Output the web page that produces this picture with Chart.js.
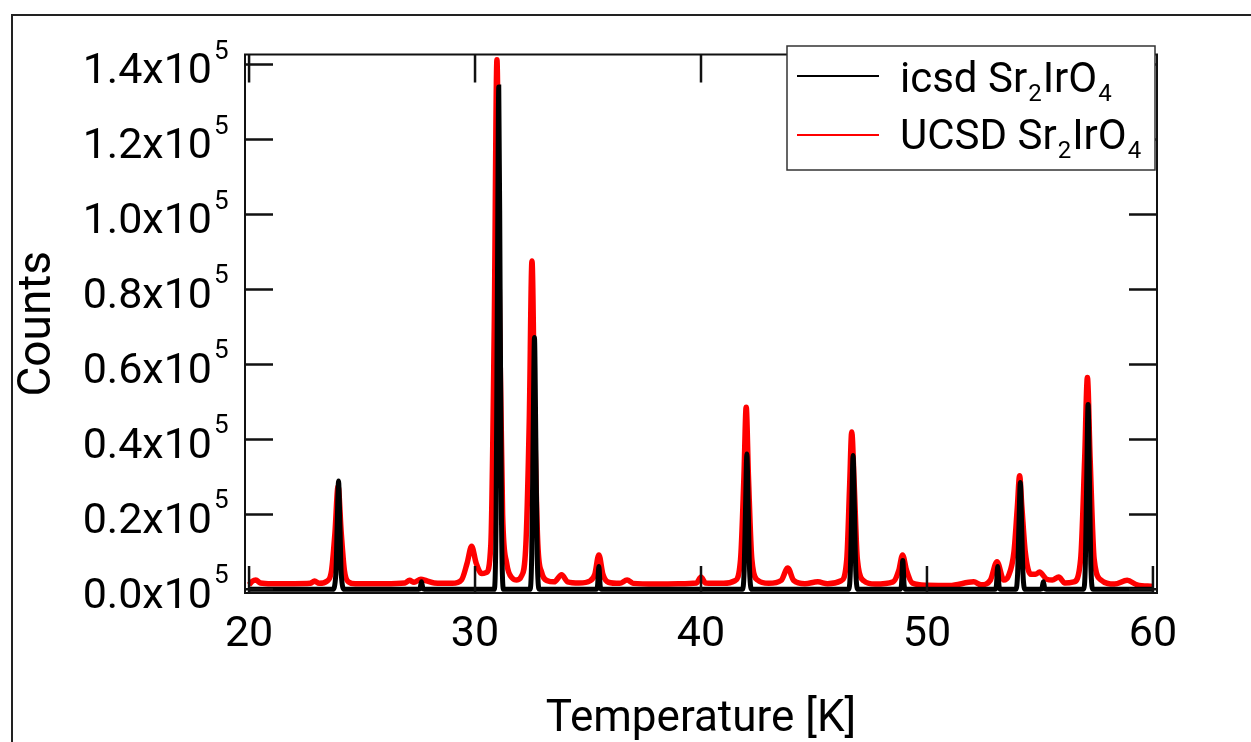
<!DOCTYPE html>
<html lang="en">
<head>
    <meta charset="UTF-8">
    <title>icsd vs UCSD Sr2IrO4</title>
    <script src="https://cdn.jsdelivr.net/npm/chart.js"></script>
    <style>
        html, body {
            margin: 0;
            padding: 0;
            background: #fff;
            overflow: hidden;
        }
        .frame {
            position: absolute;
            left: 11px;
            top: 14px;
            width: 1400px;
            height: 900px;
            border: 2px solid #222;
        }
        .chart-box {
            position: absolute;
            left: 0;
            top: 0;
            width: 1251px;
            height: 742px;
        }
    </style>
</head>
<body>

<div class="frame"></div>
<div class="chart-box">
    <canvas id="xrdChart"></canvas>
</div>

<script>
    // tick positions
    const xTicks = [20, 30, 40, 50, 60];
    const yTicks = [0, 20000, 40000, 60000, 80000, 100000, 120000, 140000];

    // icsd Sr2IrO4 (black)
    const icsdT = [
        20.0, 23.7, 23.84, 23.9, 23.96, 24.02, 24.08, 24.22,
        27.45, 27.51, 27.57, 27.63, 27.69, 27.75, 27.85,
        30.85, 30.93, 30.99, 31.05, 31.11, 31.17, 31.27,
        32.43, 32.51, 32.57, 32.63, 32.69, 32.75, 32.85,
        35.3, 35.36, 35.42, 35.48, 35.54, 35.6, 35.68,
        41.83, 41.91, 41.97, 42.03, 42.09, 42.15, 42.25,
        46.53, 46.61, 46.67, 46.73, 46.79, 46.85, 46.95,
        48.75, 48.81, 48.87, 48.93, 48.99, 49.05, 49.13,
        52.95, 53.01, 53.07, 53.13, 53.19, 53.25, 53.33,
        53.93, 54.01, 54.07, 54.13, 54.19, 54.25, 54.35,
        54.97, 55.03, 55.09, 55.15, 55.21, 55.27, 55.35,
        56.93, 57.01, 57.07, 57.13, 57.19, 57.25, 57.35,
        60.0
    ];
    const icsdCounts = [
        0, 0, 4000, 17300, 28900, 17300, 4000, 0,
        0, 0, 300, 2000, 300, 0, 0,
        0, 18700, 80000, 134000, 80000, 18700, 0,
        0, 9400, 40300, 67200, 40300, 9400, 0,
        0, 0, 900, 6100, 900, 0, 0,
        0, 5000, 21700, 36100, 21700, 5000, 0,
        0, 5000, 21400, 35700, 21400, 5000, 0,
        0, 0, 1100, 7700, 1100, 0, 0,
        0, 0, 900, 6100, 900, 0, 0,
        0, 4000, 17100, 28500, 17100, 4000, 0,
        0, 0, 300, 2000, 300, 0, 0,
        0, 6900, 29600, 49300, 29600, 6900, 0,
        0
    ];

    // UCSD Sr2IrO4 (red)
    const ucsdT = [
        20.0, 20.15, 20.3, 20.5, 21.0, 22.0, 22.7, 22.9, 23.1, 23.45,
        23.65, 23.8, 23.94, 24.08, 24.22, 24.4, 24.7, 26.0, 26.9, 27.1,
        27.3, 27.6, 27.85, 28.2, 29.0, 29.4, 29.65, 29.85, 30.05, 30.3,
        30.5, 30.7, 30.85, 30.97, 31.09, 31.22, 31.4, 31.65, 31.85, 32.05,
        32.25, 32.4, 32.52, 32.64, 32.78, 32.95, 33.2, 33.5, 33.83, 34.1,
        34.6, 35.1, 35.3, 35.48, 35.66, 35.9, 36.4, 36.73, 37.0, 38.0,
        39.0, 39.8, 40.0, 40.2, 41.0, 41.5, 41.75, 41.9, 42.0, 42.1,
        42.25, 42.5, 43.0, 43.55, 43.84, 44.1, 44.6, 45.17, 45.6, 46.2,
        46.45, 46.58, 46.67, 46.78, 46.92, 47.2, 47.7, 48.5, 48.75, 48.92,
        49.1, 49.35, 50.0, 51.0, 52.07, 52.4, 52.8, 53.1, 53.4, 53.6,
        53.85, 54.0, 54.1, 54.2, 54.35, 54.6, 54.8, 54.98, 55.3, 55.55,
        55.83, 56.1, 56.5, 56.8, 56.98, 57.1, 57.22, 57.4, 57.7, 58.3,
        58.86, 59.3, 60.0
    ];
    const ucsdCounts = [
        1200, 2200, 2500, 1700, 1500, 1500, 1600, 2200, 1600, 2200,
        5000, 15000, 27500, 15000, 5000, 2000, 1500, 1500, 1700, 2400,
        1900, 2700, 2300, 1700, 1600, 2500, 7000, 11500, 7000, 4200,
        4500, 12000, 70000, 141300, 70000, 20000, 7000, 3000, 2500, 3500,
        12000, 45000, 87600, 45000, 12000, 4500, 2300, 2000, 3900, 2000,
        1700, 2300, 4000, 9200, 4000, 1900, 1600, 2500, 1600, 1400,
        1500, 1700, 3300, 1700, 1600, 2300, 8000, 30000, 48600, 30000,
        8000, 2500, 1600, 2400, 5700, 2400, 1500, 2000, 1500, 2300,
        8000, 28000, 42000, 28000, 8000, 2300, 1400, 2000, 5000, 9200,
        5000, 1700, 1100, 1000, 2000, 1200, 2400, 7400, 2500, 3500,
        10000, 22000, 30300, 22000, 10000, 4000, 4000, 4600, 2700, 2500,
        3300, 1700, 2000, 8000, 35000, 56500, 35000, 8000, 2500, 1400,
        2400, 1200, 800
    ];

    const FONT = 'Roboto, "Liberation Sans", sans-serif';

    function toPoints(xs, ys) {
        return xs.map((x, i) => ({ x: x, y: ys[i] }));
    }

    // box around the plot, ticks pointing inward on all four sides
    const frameAndTicks = {
        id: 'frameAndTicks',
        afterDatasetsDraw(chart) {
            const ctx = chart.ctx;
            const a = chart.chartArea;
            const xs = chart.scales.x;
            const ys = chart.scales.y;
            ctx.save();
            ctx.strokeStyle = '#111';
            ctx.lineWidth = 2;
            ctx.strokeRect(a.left, a.top, a.right - a.left, a.bottom - a.top);
            ctx.lineWidth = 2.5;
            ctx.beginPath();
            xTicks.forEach(v => {
                const p = xs.getPixelForValue(v);
                ctx.moveTo(p, a.bottom); ctx.lineTo(p, a.bottom - 27);
                ctx.moveTo(p, a.top); ctx.lineTo(p, a.top + 28);
            });
            yTicks.forEach(v => {
                const p = ys.getPixelForValue(v);
                ctx.moveTo(a.left, p); ctx.lineTo(a.left + 28, p);
                ctx.moveTo(a.right, p); ctx.lineTo(a.right - 28, p);
            });
            ctx.stroke();

            // exponent on the y labels
            ctx.fillStyle = '#000';
            ctx.font = '26px ' + FONT;
            ctx.textAlign = 'left';
            ctx.textBaseline = 'alphabetic';
            const labelRight = ys.right - ys.options.ticks.padding;
            yTicks.forEach(v => {
                const p = ys.getPixelForValue(v);
                ctx.fillText('5', labelRight + 2, p - 6);
            });
            ctx.restore();
        }
    };

    // legend box in the upper right corner, with subscripts
    const subLegend = {
        id: 'subLegend',
        afterDraw(chart) {
            const ctx = chart.ctx;
            const boxL = 787, boxT = 46, boxR = 1155, boxB = 170;
            ctx.save();
            ctx.fillStyle = '#fff';
            ctx.fillRect(boxL, boxT, boxR - boxL, boxB - boxT);
            ctx.strokeStyle = '#333';
            ctx.lineWidth = 1.5;
            ctx.strokeRect(boxL, boxT, boxR - boxL, boxB - boxT);

            chart.data.datasets.forEach((ds, i) => {
                const base = 91.5 + i * 57.8;
                const lineY = 76 + i * 59;
                ctx.strokeStyle = ds.borderColor;
                ctx.lineWidth = 2;
                ctx.beginPath();
                ctx.moveTo(797, lineY);
                ctx.lineTo(879, lineY);
                ctx.stroke();

                ctx.fillStyle = '#000';
                ctx.textAlign = 'left';
                ctx.textBaseline = 'alphabetic';
                let x = 900;
                for (const ch of ds.label) {
                    const sub = '₀₁₂₃₄₅₆₇₈₉'.indexOf(ch);
                    if (sub >= 0) {
                        ctx.font = '24px ' + FONT;
                        ctx.fillText(String(sub), x + 1, base + 9);
                        x += ctx.measureText(String(sub)).width + 2;
                    } else {
                        ctx.font = '42px ' + FONT;
                        ctx.fillText(ch, x, base);
                        x += ctx.measureText(ch).width;
                    }
                }
            });
            ctx.restore();
        }
    };

    const ctx = document.getElementById('xrdChart').getContext('2d');
    const xrdChart = new Chart(ctx, {
        type: 'line',
        data: {
            datasets: [{
                label: 'icsd Sr₂IrO₄',
                data: toPoints(icsdT, icsdCounts),
                borderColor: '#000000',
                borderWidth: 5,
                pointRadius: 0,
                cubicInterpolationMode: 'monotone',
                fill: false
            }, {
                label: 'UCSD Sr₂IrO₄',
                data: toPoints(ucsdT, ucsdCounts),
                borderColor: '#ff0000',
                borderWidth: 5.5,
                pointRadius: 0,
                cubicInterpolationMode: 'monotone',
                fill: false
            }]
        },
        options: {
            responsive: true,
            maintainAspectRatio: false,
            animation: false,
            layout: {
                padding: { top: 43, right: 94, left: 0, bottom: 0 }
            },
            plugins: {
                legend: { display: false },
                tooltip: { enabled: false }
            },
            scales: {
                x: {
                    type: 'linear',
                    min: 19.82,
                    max: 60.18,
                    afterBuildTicks: s => { s.ticks = xTicks.map(v => ({ value: v })); },
                    afterFit: s => { s.height = 149; },
                    grid: { display: false, drawTicks: false },
                    border: { display: false },
                    ticks: {
                        color: '#000',
                        padding: 21,
                        font: { family: FONT, size: 43, lineHeight: 1 },
                        callback: v => String(v)
                    },
                    title: {
                        display: true,
                        text: 'Temperature [K]',
                        color: '#000',
                        padding: { top: 0, bottom: 0 },
                        font: { family: FONT, size: 44, lineHeight: 1 }
                    }
                },
                y: {
                    type: 'linear',
                    min: -970,
                    max: 142690,
                    afterBuildTicks: s => { s.ticks = yTicks.map(v => ({ value: v })); },
                    afterFit: s => { s.width = 245; },
                    grid: { display: false, drawTicks: false },
                    border: { display: false },
                    ticks: {
                        color: '#000',
                        padding: 33,
                        labelOffset: 8,
                        font: { family: FONT, size: 43, lineHeight: 1 },
                        callback: v => (v / 100000).toFixed(1) + 'x10'
                    },
                    title: {
                        display: true,
                        text: 'Counts',
                        color: '#000',
                        padding: { top: 15, bottom: 0 },
                        font: { family: FONT, size: 46, lineHeight: 1 }
                    }
                }
            }
        },
        plugins: [frameAndTicks, subLegend]
    });
</script>

</body>
</html>
